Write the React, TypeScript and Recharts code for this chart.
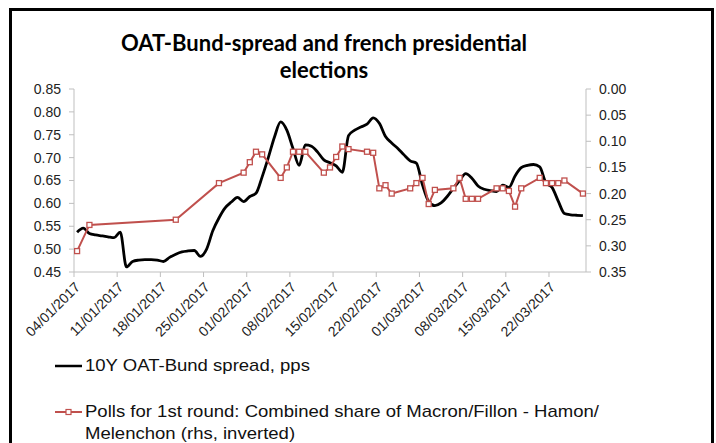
import React from 'react'
import { Line, LineChart, XAxis, YAxis } from 'recharts'

// days counted from 04/01/2017
const spreadDays = [
  0, 1, 2, 3, 4, 5, 6, 7, 8, 9, 10, 11, 12, 13, 14, 15, 16, 17, 18, 19, 20,
  21, 22, 23, 24, 25, 26, 27, 28, 29, 30, 31, 32, 33, 34, 35, 36, 37, 38, 39,
  40, 41, 42, 43, 44, 45, 46, 47, 48, 49, 50, 51, 52, 53, 54, 55, 56, 57, 58,
  59, 60, 61, 62, 63, 64, 65, 66, 67, 68, 69, 70, 71, 72, 73, 74, 75, 76, 77,
  78, 79, 80, 81, 82,
]
const spreadValues = [
  0.537, 0.546, 0.534, 0.531, 0.529, 0.527, 0.525, 0.537, 0.461, 0.473, 0.476,
  0.477, 0.477, 0.476, 0.473, 0.482, 0.489, 0.494, 0.496, 0.497, 0.484, 0.5,
  0.54, 0.568, 0.59, 0.603, 0.613, 0.604, 0.615, 0.622, 0.658, 0.7, 0.745,
  0.778, 0.76, 0.72, 0.683, 0.728, 0.725, 0.712, 0.695, 0.689, 0.682, 0.668,
  0.748, 0.76, 0.767, 0.773, 0.787, 0.775, 0.746, 0.732, 0.72, 0.706, 0.693,
  0.688, 0.64, 0.604, 0.595, 0.601, 0.615, 0.633, 0.65, 0.665, 0.655, 0.638,
  0.631, 0.628, 0.626, 0.64, 0.635, 0.66, 0.678, 0.683, 0.685, 0.68, 0.645,
  0.635, 0.605, 0.578, 0.575, 0.574, 0.573,
]

const pollDays = [
  0, 2, 16, 23, 27, 28, 29, 30, 33, 34, 35, 36, 37, 40, 41, 42, 43, 44, 47, 48,
  49, 50, 51, 54, 55, 56, 57, 58, 61, 62, 63, 64, 65, 68, 69, 70, 71, 72, 75,
  76, 77, 78, 79, 82,
]
const pollValues = [
  0.31, 0.26, 0.25, 0.18, 0.16, 0.14, 0.12, 0.125, 0.17, 0.15, 0.12, 0.12,
  0.12, 0.16, 0.15, 0.13, 0.11, 0.115, 0.12, 0.122, 0.19, 0.184, 0.2, 0.19,
  0.18, 0.17, 0.22, 0.193, 0.19, 0.17, 0.21, 0.21, 0.21, 0.19, 0.19, 0.195,
  0.225, 0.19, 0.17, 0.18, 0.18, 0.18, 0.175, 0.2,
]

const xLabels = [
  '04/01/2017', '11/01/2017', '18/01/2017', '25/01/2017', '01/02/2017',
  '08/02/2017', '15/02/2017', '22/02/2017', '01/03/2017', '08/03/2017',
  '15/03/2017', '22/03/2017',
]
const leftTicks = [0.45, 0.5, 0.55, 0.6, 0.65, 0.7, 0.75, 0.8, 0.85]
const rightTicks = [0, 0.05, 0.1, 0.15, 0.2, 0.25, 0.3, 0.35]

const spreadData = spreadDays.map((d, i) => ({ day: d, spread: spreadValues[i] }))
const pollData = pollDays.map((d, i) => ({ day: d, poll: pollValues[i] }))
const xTicks = xLabels.map((_, i) => i * 7 - 0.5)

const RED = '#c0504d'
const AXIS = '#bfbfbf'
const tickFont = { fontFamily: 'Liberation Sans, Arial', fontSize: 14, fill: '#222' }

const SquareDot = (props: any) => {
  const { cx, cy, index } = props
  if (cx == null || cy == null) return null
  return (
    <rect
      key={`sq-${index}`}
      x={cx - 2.5}
      y={cy - 2.5}
      width={5}
      height={5}
      fill='#fff'
      stroke={RED}
      strokeWidth={1.3}
    />
  )
}

const legendText = {
  position: 'absolute' as const,
  left: 85,
  whiteSpace: 'nowrap' as const,
  lineHeight: '22px',
  transform: 'scaleX(1.09)',
  transformOrigin: 'left center',
}

const App = () => {
  return (
    <div
      style={{
        position: 'absolute',
        left: 0,
        top: 0,
        width: 716,
        height: 443,
        overflow: 'hidden',
        background: '#fff',
      }}
    >
      <div
        style={{
          position: 'absolute',
          left: 9,
          top: 8,
          width: 699,
          height: 480,
          border: '3px solid #000',
        }}
      />
      <div
        style={{
          position: 'absolute',
          left: 24,
          width: 600,
          top: 29,
          textAlign: 'center',
          fontFamily: 'Lato, Calibri, sans-serif',
          fontWeight: 700,
          fontSize: 22,
          lineHeight: '27px',
          color: '#000',
        }}
      >
        OAT-Bund-spread and french presidential
        <br />
        elections
      </div>
      <LineChart
        width={716}
        height={443}
        margin={{ top: 89, right: 70, left: 14, bottom: 91 }}
        style={{ position: 'absolute', left: 0, top: 0 }}
      >
        <XAxis
          dataKey='day'
          type='number'
          domain={[-0.5, 82.5]}
          ticks={xTicks}
          interval={0}
          tickFormatter={(v: number) => xLabels[Math.round((v + 0.5) / 7)]}
          height={80}
          stroke={AXIS}
          tickSize={5}
          tickMargin={4}
          angle={-45}
          textAnchor='end'
          tick={tickFont}
          allowDataOverflow
        />
        <YAxis
          yAxisId='left'
          orientation='left'
          domain={[0.45, 0.85]}
          ticks={leftTicks}
          tickFormatter={(v: number) => v.toFixed(2)}
          width={60}
          stroke={AXIS}
          tickSize={5}
          tickMargin={8}
          tick={tickFont}
          allowDataOverflow
        />
        <YAxis
          yAxisId='right'
          orientation='right'
          domain={[0, 0.35]}
          reversed
          ticks={rightTicks}
          tickFormatter={(v: number) => v.toFixed(2)}
          width={60}
          stroke={AXIS}
          tickSize={5}
          tickMargin={8}
          tick={{ ...tickFont, textAnchor: 'start' }}
          allowDataOverflow
        />
        <Line
          yAxisId='left'
          data={spreadData}
          dataKey='spread'
          type='monotone'
          stroke='#000'
          strokeWidth={2.8}
          dot={false}
          isAnimationActive={false}
        />
        <Line
          yAxisId='right'
          data={pollData}
          dataKey='poll'
          type='linear'
          stroke={RED}
          strokeWidth={2}
          dot={<SquareDot />}
          isAnimationActive={false}
        />
      </LineChart>
      <div
        style={{
          position: 'absolute',
          left: 0,
          top: 0,
          fontFamily: 'Liberation Sans, Arial',
          fontSize: 17,
          color: '#111',
        }}
      >
        <svg
          width={40}
          height={100}
          style={{ position: 'absolute', left: 50, top: 350 }}
        >
          <line x1={5} x2={32} y1={16} y2={16} stroke='#000' strokeWidth={2.5} />
          <line x1={5} x2={32} y1={62} y2={62} stroke={RED} strokeWidth={2} />
          <rect x={16} y={59.5} width={5} height={5} fill='#fff' stroke={RED} strokeWidth={1.2} />
        </svg>
        <div style={{ ...legendText, top: 355 }}>10Y OAT-Bund spread, pps</div>
        <div style={{ ...legendText, top: 401 }}>
          Polls for 1st round: Combined share of Macron/Fillon - Hamon/
          <br />
          Melenchon (rhs, inverted)
        </div>
      </div>
    </div>
  )
}

export default App
